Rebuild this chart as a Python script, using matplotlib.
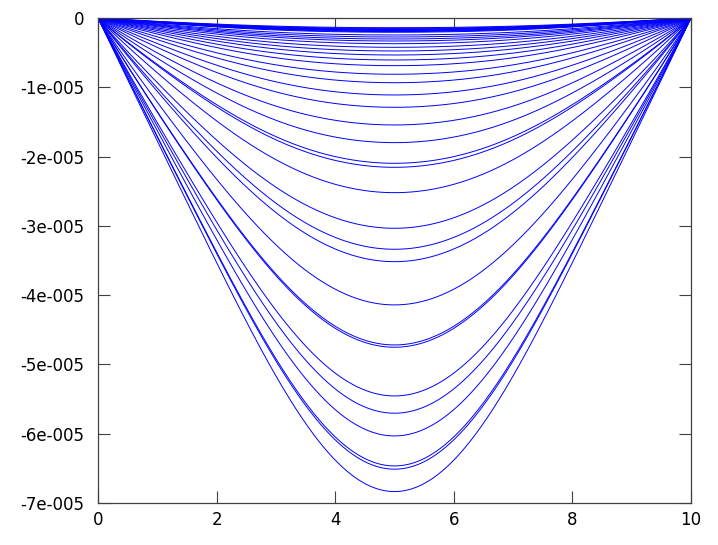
import numpy as np
import matplotlib
matplotlib.use("Agg")
import matplotlib.pyplot as plt

# depth of each curve at x = 5 (units of 1e-5)
depths = [0.14, 0.15, 0.159, 0.166, 0.173, 0.18, 0.188, 0.196, 0.206, 0.245,
          0.274, 0.303, 0.332, 0.371, 0.423, 0.476, 0.534, 0.606, 0.688,
          0.812, 0.934, 1.111, 1.289, 1.544, 1.799, 2.097, 2.155, 2.521,
          3.035, 3.338, 3.517, 4.141, 4.719, 4.752, 5.455, 5.704, 6.032,
          6.465, 6.512, 6.835]

# half-span positions and relative profiles (shallow and deepest curves)
x_half = [0, 0.5, 1, 1.5, 2, 2.5, 3, 3.5, 4, 4.5, 5]
prof_shallow = [0, 0.18, 0.35, 0.50, 0.63, 0.75, 0.85, 0.92, 0.97, 0.995, 1.0]
prof_deep = [0, 0.13, 0.26, 0.39, 0.52, 0.635, 0.76, 0.86, 0.935, 0.985, 1.0]

ytick_vals = [0, -1e-5, -2e-5, -3e-5, -4e-5, -5e-5, -6e-5, -7e-5]
ytick_labels = ['0', '-1e-005', '-2e-005', '-3e-005', '-4e-005', '-5e-005', '-6e-005', '-7e-005']
xtick_vals = [0, 2, 4, 6, 8, 10]

fig = plt.figure(figsize=(7.18, 5.45), dpi=100)
ax = fig.add_axes([98 / 718, 1 - 503 / 545, (691 - 98) / 718, (503 - 18) / 545])

# mirror the half profiles to the full span 0..10 and smooth them
xh = np.array(x_half)
xk = np.concatenate([xh, 10 - xh[::-1][1:]])
ps_sh = np.concatenate([prof_shallow, prof_shallow[::-1][1:]])
ps_dp = np.concatenate([prof_deep, prof_deep[::-1][1:]])
c_sh = np.polyfit(xk - 5, ps_sh, 8)
c_dp = np.polyfit(xk - 5, ps_dp, 8)
xf = np.linspace(0, 10, 501)
f_sh = np.polyval(c_sh, xf - 5)
f_dp = np.polyval(c_dp, xf - 5)
f_sh -= f_sh[0]
f_dp -= f_dp[0]
f_sh /= f_sh[250]
f_dp /= f_dp[250]

d_max = max(depths)
for d in depths:
    w = d / d_max
    ax.plot(xf, -d * 1e-5 * ((1 - w) * f_sh + w * f_dp), color='#0000ff', lw=0.7)

ax.set_xlim(0, 10)
ax.set_ylim(-7e-5, 0)
ax.set_yticks(ytick_vals)
ax.set_yticklabels(ytick_labels)
ax.set_xticks(xtick_vals)
ax.tick_params(direction='in', length=8.5, width=0.8, color='#404040',
               top=True, right=True, labelsize=12)
ax.tick_params(axis='y', pad=10)
ax.tick_params(axis='x', pad=6)
for s in ax.spines.values():
    s.set_color('#404040')
    s.set_linewidth(0.9)

fig.savefig('out.png', dpi=100)
